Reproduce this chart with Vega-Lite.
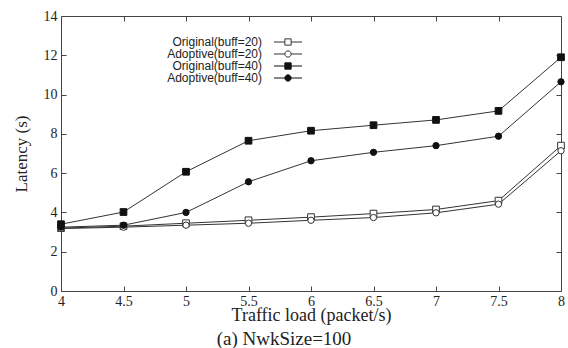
{
  "$schema": "https://vega.github.io/schema/vega-lite/v6.json",
  "width": 500,
  "height": 275,
  "autosize": "none",
  "padding": {"left": 61, "top": 16, "right": 7, "bottom": 57},
  "background": "white",
  "config": {
    "view": {"stroke": "#444", "strokeWidth": 1},
    "axis": {"labelFont": "Liberation Serif", "titleFont": "Liberation Serif", "labelFontSize": 14, "titleFontSize": 17, "labelColor": "#222", "titleColor": "#222", "titleFontWeight": "normal", "domain": false, "grid": false, "tickColor": "#444", "tickSize": -5, "format": "~g"}
  },
  "title": {"text": "(a) NwkSize=100", "orient": "bottom", "font": "Liberation Serif", "fontSize": 19, "fontWeight": "normal", "color": "#222", "offset": 6, "dx": -27},
  "data": {"values": [
    {"load": 4, "series": "Original(buff=20)", "latency": 3.2},
    {"load": 4.5, "series": "Original(buff=20)", "latency": 3.3},
    {"load": 5, "series": "Original(buff=20)", "latency": 3.45},
    {"load": 5.5, "series": "Original(buff=20)", "latency": 3.6},
    {"load": 6, "series": "Original(buff=20)", "latency": 3.76},
    {"load": 6.5, "series": "Original(buff=20)", "latency": 3.94},
    {"load": 7, "series": "Original(buff=20)", "latency": 4.15},
    {"load": 7.5, "series": "Original(buff=20)", "latency": 4.6},
    {"load": 8, "series": "Original(buff=20)", "latency": 7.4},
    {"load": 4, "series": "Adoptive(buff=20)", "latency": 3.18},
    {"load": 4.5, "series": "Adoptive(buff=20)", "latency": 3.25},
    {"load": 5, "series": "Adoptive(buff=20)", "latency": 3.35},
    {"load": 5.5, "series": "Adoptive(buff=20)", "latency": 3.45},
    {"load": 6, "series": "Adoptive(buff=20)", "latency": 3.6},
    {"load": 6.5, "series": "Adoptive(buff=20)", "latency": 3.74},
    {"load": 7, "series": "Adoptive(buff=20)", "latency": 3.98},
    {"load": 7.5, "series": "Adoptive(buff=20)", "latency": 4.42},
    {"load": 8, "series": "Adoptive(buff=20)", "latency": 7.14},
    {"load": 4, "series": "Original(buff=40)", "latency": 3.4},
    {"load": 4.5, "series": "Original(buff=40)", "latency": 4.02},
    {"load": 5, "series": "Original(buff=40)", "latency": 6.07},
    {"load": 5.5, "series": "Original(buff=40)", "latency": 7.65},
    {"load": 6, "series": "Original(buff=40)", "latency": 8.16},
    {"load": 6.5, "series": "Original(buff=40)", "latency": 8.44},
    {"load": 7, "series": "Original(buff=40)", "latency": 8.71},
    {"load": 7.5, "series": "Original(buff=40)", "latency": 9.17},
    {"load": 8, "series": "Original(buff=40)", "latency": 11.9},
    {"load": 4, "series": "Adoptive(buff=40)", "latency": 3.25},
    {"load": 4.5, "series": "Adoptive(buff=40)", "latency": 3.35},
    {"load": 5, "series": "Adoptive(buff=40)", "latency": 4.0},
    {"load": 5.5, "series": "Adoptive(buff=40)", "latency": 5.56},
    {"load": 6, "series": "Adoptive(buff=40)", "latency": 6.63},
    {"load": 6.5, "series": "Adoptive(buff=40)", "latency": 7.06},
    {"load": 7, "series": "Adoptive(buff=40)", "latency": 7.4},
    {"load": 7.5, "series": "Adoptive(buff=40)", "latency": 7.88},
    {"load": 8, "series": "Adoptive(buff=40)", "latency": 10.65}
  ]},
  "layer": [
    {
      "mark": {"type": "line", "color": "#333", "strokeWidth": 1},
      "encoding": {
        "x": {"field": "load", "type": "quantitative", "scale": {"domain": [4, 8], "nice": false, "zero": false}, "axis": {"values": [4, 4.5, 5, 5.5, 6, 6.5, 7, 7.5, 8], "title": "Traffic load (packet/s)", "titleFontSize": 18, "labelPadding": 8, "titlePadding": -2, "labelFlush": false}},
        "y": {"field": "latency", "type": "quantitative", "scale": {"domain": [0, 14], "nice": false}, "axis": {"values": [0, 2, 4, 6, 8, 10, 12, 14], "title": "Latency (s)", "labelPadding": 9, "titlePadding": 13}},
        "detail": {"field": "series"}
      }
    },
    {
      "transform": [{"filter": "test(/Original/, datum.series)"}],
      "mark": {"type": "point", "shape": "square", "opacity": 1, "strokeWidth": 1, "size": 45},
      "encoding": {
        "x": {"field": "load", "type": "quantitative", "axis": {"orient": "top", "values": [4.5, 5, 5.5, 6, 6.5, 7, 7.5], "labels": false, "title": null}},
        "y": {"field": "latency", "type": "quantitative", "axis": {"orient": "right", "values": [2, 4, 6, 8, 10, 12], "labels": false, "title": null}},
        "fill": {"field": "series", "type": "nominal"},
        "stroke": {"field": "series", "type": "nominal"}
      }
    },
    {
      "transform": [{"filter": "test(/Adoptive/, datum.series)"}],
      "mark": {"type": "point", "shape": "circle", "opacity": 1, "strokeWidth": 1, "size": 40},
      "encoding": {
        "x": {"field": "load", "type": "quantitative", "axis": null},
        "y": {"field": "latency", "type": "quantitative", "axis": null},
        "fill": {"field": "series", "type": "nominal"},
        "stroke": {"field": "series", "type": "nominal"}
      }
    },
    {
      "transform": [{"filter": "datum.load > 100"}],
      "mark": {"type": "point", "opacity": 1, "strokeWidth": 1},
      "encoding": {
        "x": {"field": "load", "type": "quantitative", "axis": null},
        "y": {"field": "latency", "type": "quantitative", "axis": null},
        "shape": {"field": "series", "type": "nominal", "scale": {"domain": ["Original(buff=20)", "Adoptive(buff=20)", "Original(buff=40)", "Adoptive(buff=40)"], "range": ["M-4,0H-0.9M0.9,0H4M-0.9,-0.9H0.9V0.9H-0.9Z", "M-4,0H-0.9M0.9,0H4M-0.9,0A0.9,0.9 0 1,1 0.9,0A0.9,0.9 0 1,1 -0.9,0Z", "M-4,0H-0.9M0.9,0H4M-0.9,-0.9H0.9V0.9H-0.9Z", "M-4,0H-0.9M0.9,0H4M-0.9,0A0.9,0.9 0 1,1 0.9,0A0.9,0.9 0 1,1 -0.9,0Z"]},
          "legend": {"title": null, "orient": "none", "legendX": 221, "legendY": 20, "labelFont": "Liberation Sans", "labelFontSize": 12, "labelColor": "#222", "labelAlign": "right", "labelOffset": -32, "rowPadding": 0, "symbolSize": 49, "symbolStrokeWidth": 1}},
        "fill": {"field": "series", "type": "nominal", "scale": {"domain": ["Original(buff=20)", "Adoptive(buff=20)", "Original(buff=40)", "Adoptive(buff=40)"], "range": ["white", "white", "#111", "#111"]}},
        "stroke": {"field": "series", "type": "nominal", "scale": {"domain": ["Original(buff=20)", "Adoptive(buff=20)", "Original(buff=40)", "Adoptive(buff=40)"], "range": ["#333", "#333", "#111", "#111"]}}
      }
    }
  ],
  "resolve": {"axis": {"x": "independent", "y": "independent"}}
}
